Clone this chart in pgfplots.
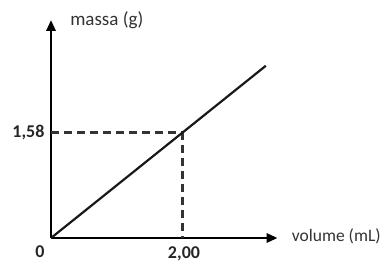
\documentclass[border=0pt]{standalone}
\usepackage{pgfplots}
\pgfplotsset{compat=1.18}
\usepackage{fontspec}
\setmainfont{Carlito}
\usetikzlibrary{arrows.meta}
\begin{document}
\begin{tikzpicture}
\useasboundingbox (-51pt,-27pt) rectangle (339pt,238pt);
\begin{axis}[
  anchor=origin, at={(0,0)},
  x=65.5pt, y=66.5pt,
  xmin=0, xmax=3.46, ymin=0, ymax=3.28,
  axis lines=left,
  axis line style={line width=2.8pt, -{Triangle[length=11pt,width=9pt]}},
  xtick={2}, xticklabels={\textbf{2,00}},
  ytick={1.58}, yticklabels={\textbf{1,58}},
  major tick length=0pt,
  tick label style={font=\fontsize{18}{20}\selectfont, text=black!85},
  xticklabel style={anchor=north, yshift=-5pt, xshift=2pt},
  yticklabel style={anchor=east, xshift=-3pt},
  clip=false,
]
\addplot[line width=3pt, black!80, dash pattern=on 8pt off 5pt] coordinates {(0,1.58) (2,1.58) (2,0)};
\addplot[line width=2.2pt, black!90] coordinates {(0,0) (3.28,2.59)};
\node[anchor=center, font=\bfseries\fontsize{18}{20}\selectfont, text=black!85] at (axis cs:-0.17,-0.21) {0};
\node[anchor=west, font=\fontsize{19}{21}\selectfont, text=black!80] at (axis cs:0.24,3.27) {massa (g)};
\node[anchor=west, inner sep=1pt, font=\fontsize{17.5}{20}\selectfont, text=black!80] at (axis cs:3.66,0.02) {volume (mL)};
\end{axis}
\end{tikzpicture}
\end{document}
